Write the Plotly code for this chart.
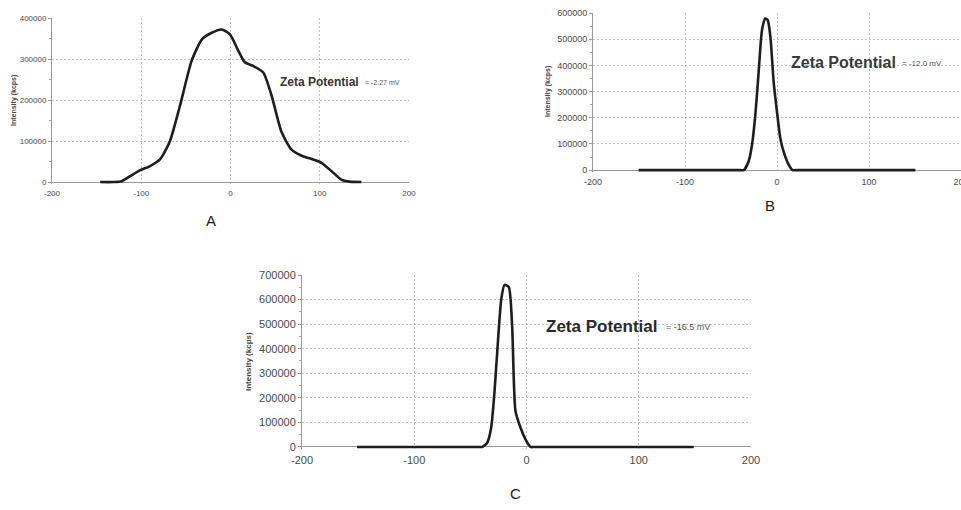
import plotly.graph_objects as go

W, H = 961, 510

# ---- data ----
x_ticks = [-200, -100, 0, 100, 200]
x_tick_labels = ["-200", "-100", "0", "100", "200"]

a_x = [-146, -131, -122, -112, -101, -90, -79, -68, -56.5, -43.5, -32, -21, -10, -0.6,
       8.8, 16, 25.5, 36.7, 46, 57, 68.4, 81, 92.6, 102, 113, 124, 133.6, 146.7]
a_y = [0, 0, 2000, 15000, 29000, 39000, 55000, 99000, 187000, 296000, 348000, 364000,
       372000, 360000, 320000, 292000, 283000, 267000, 211000, 123000, 79000, 63000,
       55000, 47000, 27000, 6000, 1000, 0]
a_yticks = [0, 100000, 200000, 300000, 400000]

b_x = [-150.4, -40, -36, -30.8, -27.2, -23.6, -20, -16.3, -12.7, -10.1, -7.2, -3.6, 0,
       3.6, 7.2, 12.7, 17, 21, 150.4]
b_y = [0, 0, 0, 34000, 96000, 209000, 372000, 535000, 579000, 573000, 510000, 335000,
       222000, 122000, 71000, 21000, 0, 0, 0]
b_yticks = [0, 100000, 200000, 300000, 400000, 500000, 600000]

c_x = [-151, -43, -39.5, -35, -31.5, -28.5, -25.5, -22.5, -19.6, -15.8, -12.8, -9.8,
       -5.3, -0.9, 3.6, 7, 149]
c_y = [0, 0, 0, 17000, 78000, 225000, 426000, 600000, 660000, 651000, 493000, 145000,
       78000, 31000, 0, 0, 0]
c_yticks = [0, 100000, 200000, 300000, 400000, 500000, 600000, 700000]

panel_labels = ["A", "B", "C"]
zeta_values = ["= -2.27 mV", "= -12.0 mV", "= -16.5 mV"]
y_title = "Intensity (kcps)"

FONT = "Liberation Sans, Arial, sans-serif"

# pixel boxes for each panel: (left, right, top, bottom), tick font size
panels = [
    dict(x=a_x, y=a_y, yt=a_yticks, box=(52, 409, 18, 184), fs=8),
    dict(x=b_x, y=b_y, yt=b_yticks, box=(593, 961, 13, 172), fs=9),
    dict(x=c_x, y=c_y, yt=c_yticks, box=(302, 751, 275, 449), fs=11),
]

fig = go.Figure()
layout = dict(width=W, height=H, margin=dict(l=0, r=0, t=0, b=0, autoexpand=False),
              paper_bgcolor="white", plot_bgcolor="white", showlegend=False)

GRID = "#c4c4c4"
TICKC = "#4a4a4a"
for i, p in enumerate(panels, start=1):
    l, r, t, b = p["box"]
    xa = "x" if i == 1 else f"x{i}"
    ya = "y" if i == 1 else f"y{i}"
    ymax = p["yt"][-1]
    fig.add_trace(go.Scatter(x=p["x"], y=p["y"], mode="lines", xaxis=xa, yaxis=ya,
                             line=dict(color="#1e1e1e", width=2.6, shape="spline",
                                       smoothing=0.6),
                             hoverinfo="skip"))
    xk = "xaxis" if i == 1 else f"xaxis{i}"
    yk = "yaxis" if i == 1 else f"yaxis{i}"
    layout[xk] = dict(domain=[l / W, min(r / W, 1.0)], anchor=ya, range=[-200, 200],
                      tickvals=x_ticks, ticktext=x_tick_labels, ticks="",
                      showline=False, zeroline=False,
                      showgrid=True, gridcolor=GRID, griddash="2px,2px", gridwidth=1,
                      tickfont=dict(family=FONT, size=p["fs"], color=TICKC),
                      ticklabelstandoff=3, ticklabeloverflow="allow",
                      automargin=False, fixedrange=True)
    layout[yk] = dict(domain=[1 - b / H, 1 - t / H], anchor=xa,
                      range=[-0.012 * ymax, ymax], tickvals=p["yt"], tickformat="d",
                      ticks="outside", ticklen=3, tickcolor="#999",
                      showline=True, linecolor="#999", linewidth=1,
                      zeroline=True, zerolinecolor="#999", zerolinewidth=1,
                      showgrid=True, gridcolor=GRID, griddash="2px,2px", gridwidth=1,
                      minor=dict(dtick=50000, ticks="outside", ticklen=2,
                                 tickcolor="#aaa", showgrid=False),
                      tickfont=dict(family=FONT, size=p["fs"], color=TICKC),
                      automargin=False, fixedrange=True)

fig.update_layout(**layout)

def ann(text, xpx, ypx, size, bold=False, xanchor="left", angle=0, color="#222"):
    fig.add_annotation(text=f"<b>{text}</b>" if bold else text,
                       x=xpx / W, y=1 - ypx / H, xref="paper", yref="paper",
                       xanchor=xanchor, yanchor="middle", showarrow=False,
                       textangle=angle,
                       font=dict(family=FONT, size=size, color=color))

# Zeta potential labels
ann("Zeta Potential", 278, 82, 12, bold=True, color="#333")
ann(zeta_values[0], 363, 83, 7, color="#555")
ann("Zeta Potential", 789, 62, 16, bold=True, color="#3a3a3a")
ann(zeta_values[1], 900, 63, 8, color="#555")
ann("Zeta Potential", 544, 326, 17, bold=True, color="#2a2a2a")
ann(zeta_values[2], 664, 327, 9, color="#555")

# y-axis titles
ann(y_title, 14, 101, 7, bold=True, xanchor="center", angle=-90, color="#444")
ann(y_title, 548, 92, 7, bold=True, xanchor="center", angle=-90, color="#444")
ann(y_title, 248, 362, 8, bold=True, xanchor="center", angle=-90, color="#444")

# panel letters
ann(panel_labels[0], 211, 220, 15, xanchor="center", color="#222")
ann(panel_labels[1], 770, 205, 15, xanchor="center", color="#222")
ann(panel_labels[2], 515, 493, 15, xanchor="center", color="#222")

fig.write_html("out.html", config={"displayModeBar": False},
               post_script="document.body.style.margin='0';document.body.style.overflow='hidden';")
